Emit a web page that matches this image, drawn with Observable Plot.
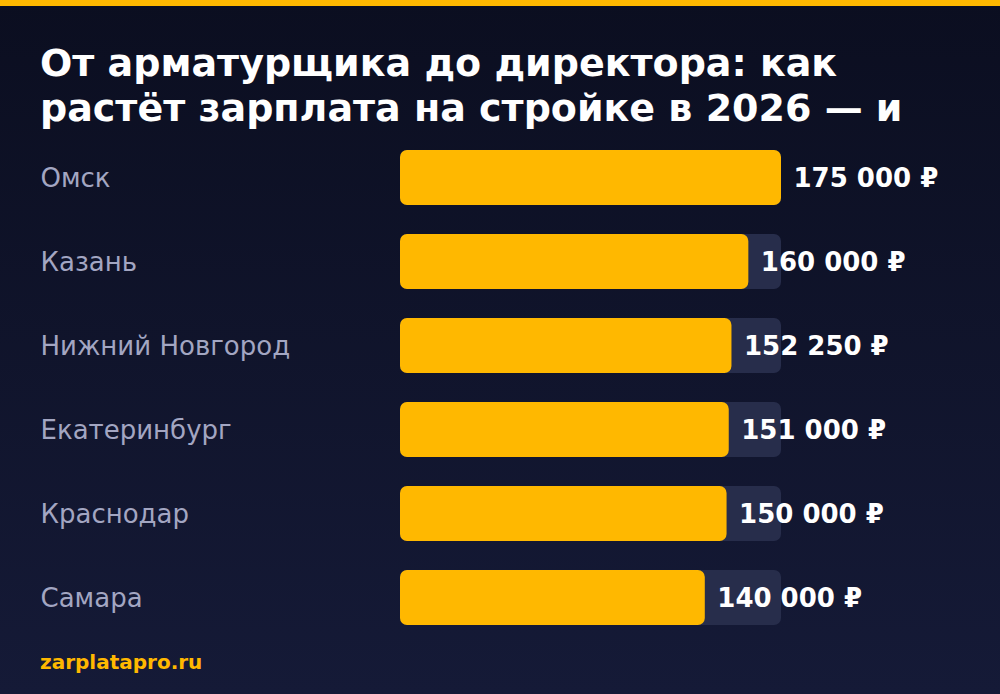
<!DOCTYPE html>
<html>
<head>
<meta charset="utf-8">
<script src="https://cdn.jsdelivr.net/npm/d3@7"></script>
<script src="https://cdn.jsdelivr.net/npm/@observablehq/plot@0.6"></script>
<style>
  html, body { margin: 0; padding: 0; }
  body {
    width: 1000px; height: 694px; overflow: hidden; position: relative;
    background: linear-gradient(180deg, #0b0e20 0%, #151a37 100%);
    font-family: "DejaVu Sans", sans-serif;
  }
  #topbar { position: absolute; left: 0; top: 0; width: 1000px; height: 6px; background: #ffb800; }
  #title {
    position: absolute; left: 40px; top: 41px; margin: 0;
    color: #ffffff; font-size: 38px; font-weight: bold; line-height: 45px;
    width: 920px; height: 92px; overflow: hidden;
  }
  #chart { position: absolute; left: 0; top: 136px; }
  #footer {
    position: absolute; left: 40px; top: 650px;
    color: #ffb800; font-size: 20px; font-weight: bold;
  }
</style>
</head>
<body>
<div id="topbar"></div>
<h1 id="title">От арматурщика до директора: как растёт зарплата на стройке в 2026 — и</h1>
<div id="chart"></div>
<div id="footer">zarplatapro.ru</div>
<script>
const cities = ["Омск", "Казань", "Нижний Новгород", "Екатеринбург", "Краснодар", "Самара"];
const salaries = [175000, 160000, 152250, 151000, 150000, 140000];
const maxSalary = 175000;

const data = cities.map((c, i) => ({city: c, value: salaries[i], max: maxSalary}));
const fmt = v => d3.format(",")(v).replace(/,/g, " ") + " ₽";

const chart = Plot.plot({
  width: 1000,
  height: 504,
  marginLeft: 400,
  marginRight: 219,
  marginTop: 0,
  marginBottom: 0,
  style: {background: "transparent", fontFamily: "DejaVu Sans, sans-serif"},
  x: {domain: [0, maxSalary], axis: null},
  y: {domain: cities, axis: null, paddingInner: 0.345, paddingOuter: 0.1725},
  marks: [
    Plot.barX(data, {y: "city", x: "max", fill: "#272d4b", rx: 7}),
    Plot.barX(data, {y: "city", x: "value", fill: "#ffb800", rx: 7}),
    Plot.text(data, {y: "city", x: 0, text: "city", textAnchor: "start", dx: -360, dy: 1,
      fill: "#a3a6c2", fontSize: 26}),
    Plot.text(data, {y: "city", x: "value", text: d => fmt(d.value), textAnchor: "start", dx: 12, dy: 1,
      fill: "#ffffff", fontSize: 26, fontWeight: "bold"})
  ]
});
document.getElementById("chart").appendChild(chart);
</script>
</body>
</html>
